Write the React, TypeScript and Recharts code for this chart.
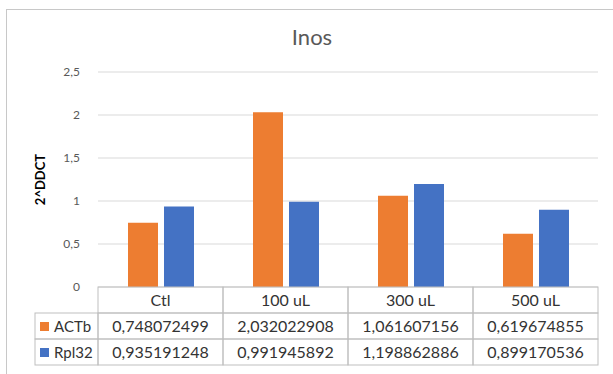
import { Bar, BarChart, CartesianGrid, XAxis, YAxis } from "recharts";

const categories = ["Ctl", "100 uL", "300 uL", "500 uL"];
const actbValues = [0.748072499, 2.032022908, 1.061607156, 0.619674855];
const rpl32Values = [0.935191248, 0.991945892, 1.198862886, 0.899170536];
const seriesNames = ["ACTb", "Rpl32"];
const yTicks = [0, 0.5, 1, 1.5, 2, 2.5];

const colors = ["#ED7D31", "#4472C4"];
const seriesValues = [actbValues, rpl32Values];

const data = categories.map((name, i) => ({
  name,
  ACTb: actbValues[i],
  Rpl32: rpl32Values[i]
}));

const CHART_W = 612;
const CHART_H = 362;
const margin = { top: 63, right: 20, bottom: 5, left: 0 };
const Y_AXIS_W = 92;
const PLOT_W = CHART_W - margin.left - margin.right - Y_AXIS_W;
const ROW_H = 26;
const LEGEND_W = 63;
const FONT = "Lato, 'Open Sans', sans-serif";
const gridColor = "#d9d9d9";
const textColor = "#333333";

const fmt = (v: number) => String(v).replace(".", ",");

function TableTick(props: any) {
  const { x, y, payload, index } = props;
  const cellW = PLOT_W / categories.length;
  const left = x - cellW / 2;
  return (
    <g fontFamily={FONT} fontSize={16} fill={textColor}>
      {[0, 1, 2].map((r) => (
        <rect
          key={r}
          x={left}
          y={y + r * ROW_H}
          width={cellW}
          height={ROW_H}
          fill="none"
          stroke="#bfbfbf"
        />
      ))}
      <text x={x} y={y + ROW_H / 2 + 6} textAnchor="middle">
        {payload.value}
      </text>
      {seriesValues.map((vals, s) => (
        <text key={s} x={x} y={y + (s + 1.5) * ROW_H + 6} textAnchor="middle">
          {fmt(vals[index])}
        </text>
      ))}
      {index === 0 &&
        seriesNames.map((name, s) => (
          <g key={name}>
            <rect
              x={left - LEGEND_W}
              y={y + (s + 1) * ROW_H}
              width={LEGEND_W}
              height={ROW_H}
              fill="none"
              stroke="#bfbfbf"
            />
            <rect
              x={left - LEGEND_W + 5}
              y={y + (s + 1.5) * ROW_H - 4}
              width={9}
              height={9}
              fill={colors[s]}
            />
            <text x={left - LEGEND_W + 19} y={y + (s + 1.5) * ROW_H + 6} fontSize={15}>
              {name}
            </text>
          </g>
        ))}
    </g>
  );
}

export default function App() {
  return (
    <div style={{ position: "absolute", left: 6, top: 9, width: CHART_W, height: 380 }}>
      <div
        style={{
          position: "absolute",
          inset: 0,
          borderTop: "1px solid #c8c8c8",
          borderLeft: "1px solid #c8c8c8",
          borderRight: "1px solid #c8c8c8"
        }}
      />
      <div
        style={{
          position: "absolute",
          top: 14,
          width: "100%",
          textAlign: "center",
          fontFamily: FONT,
          fontSize: 22,
          lineHeight: "normal",
          color: "#595959"
        }}
      >
        Inos
      </div>
      <BarChart
        width={CHART_W}
        height={CHART_H}
        data={data}
        margin={margin}
        barCategoryGap="24%"
        barGap={6}
        style={{ position: "absolute", left: 0, top: 0 }}
      >
        <CartesianGrid vertical={false} stroke={gridColor} />
        <XAxis
          dataKey="name"
          axisLine={false}
          tickLine={false}
          tickSize={0}
          tickMargin={0}
          height={ROW_H * 3 + 1}
          interval={0}
          tick={<TableTick />}
        />
        <YAxis
          width={Y_AXIS_W}
          domain={[0, 2.5]}
          ticks={yTicks}
          axisLine={false}
          tickLine={false}
          tickMargin={12}
          tickFormatter={fmt}
          tick={{ fill: "#595959", fontSize: 12, fontFamily: FONT }}
          label={({ viewBox }: any) => {
            const lx = viewBox.x + 39;
            const ly = viewBox.y + viewBox.height / 2;
            return (
              <text
                x={lx}
                y={ly}
                transform={`rotate(-90 ${lx} ${ly})`}
                textAnchor="middle"
                fontFamily={FONT}
                fontSize={13}
                fontWeight="bold"
                fill="#000"
              >
                2^DDCT
              </text>
            );
          }}
        />
        <Bar dataKey="ACTb" fill={colors[0]} isAnimationActive={false} />
        <Bar dataKey="Rpl32" fill={colors[1]} isAnimationActive={false} />
      </BarChart>
    </div>
  );
}
